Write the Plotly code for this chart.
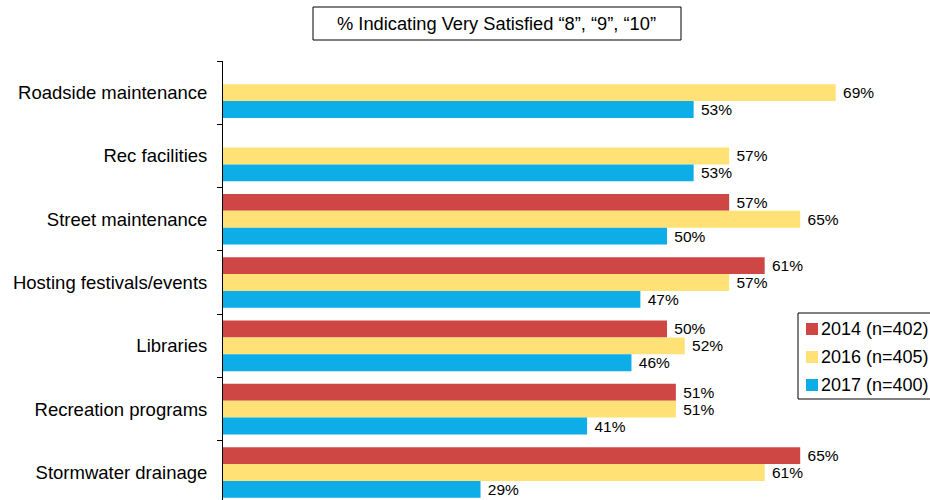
import plotly.graph_objects as go

categories = ["Roadside maintenance", "Rec facilities", "Street maintenance",
              "Hosting festivals/events", "Libraries", "Recreation programs",
              "Stormwater drainage"]
v2014 = [None, None, 57, 61, 50, 51, 65]
v2016 = [69, 57, 65, 57, 52, 51, 61]
v2017 = [53, 53, 50, 47, 46, 41, 29]
series_names = ["2014 (n=402)", "2016 (n=405)", "2017 (n=400)"]
series_colors = ["#CF4745", "#FFE175", "#0DADE8"]
title_text = "% Indicating Very Satisfied “8”, “9”, “10”"

FONT = "Arial, Liberation Sans, sans-serif"
W, H = 930, 500
ML, MR, MT, MB = 223, 0, 61, 0
PW, PH = W - ML - MR, H - MT - MB
BAND = 63.3


def px(x):
    return (x - ML) / PW


def py(y):
    return (H - MB - y) / PH


fig = go.Figure()
for name, vals, col in zip(series_names, [v2014, v2016, v2017], series_colors):
    fig.add_trace(go.Bar(
        y=categories, x=vals, orientation="h", name=name,
        marker=dict(color=col, line=dict(width=0)),
        texttemplate="\u00a0%{x}%", textposition="outside",
        textfont=dict(family=FONT, size=15.5, color="black"),
        constraintext="none", cliponaxis=False, showlegend=False,
    ))

shapes = []
annotations = []
# title box
shapes.append(dict(type="rect", xref="paper", yref="paper",
                   x0=px(313), x1=px(681), y0=py(40), y1=py(7),
                   line=dict(color="black", width=1), fillcolor="white"))
annotations.append(dict(text=title_text, xref="paper", yref="paper",
                        x=px(496), y=py(24), showarrow=False,
                        xanchor="center", yanchor="middle",
                        font=dict(family=FONT, size=18.3, color="black")))
# manual legend
shapes.append(dict(type="rect", xref="paper", yref="paper",
                   x0=px(798), x1=px(945), y0=py(399), y1=py(313),
                   line=dict(color="black", width=1), fillcolor="white"))
for i, (name, col) in enumerate(zip(series_names, series_colors)):
    cy = 329 + 28 * i
    shapes.append(dict(type="rect", xref="paper", yref="paper",
                       x0=px(806), x1=px(818), y0=py(cy + 6), y1=py(cy - 6),
                       line=dict(width=0), fillcolor=col))
    annotations.append(dict(text=name, xref="paper", yref="paper",
                            x=px(819), y=py(cy), showarrow=False,
                            xanchor="left", yanchor="middle",
                            font=dict(family=FONT, size=18, color="black")))

fig.update_layout(
    width=W, height=H,
    margin=dict(l=ML, r=MR, t=MT, b=MB, autoexpand=False),
    paper_bgcolor="white", plot_bgcolor="white",
    barmode="group", bargap=0.2, bargroupgap=0,
    font=dict(family=FONT, size=18, color="black"),
    shapes=shapes, annotations=annotations,
    xaxis=dict(visible=False, range=[0, PW / 8.88], showgrid=False, zeroline=False),
    yaxis=dict(type="category", categoryorder="array", categoryarray=categories,
               range=[-0.5 + PH / BAND, -0.5], showline=True, linecolor="black",
               linewidth=1, ticks="outside", tickson="boundaries", ticklen=5,
               tickcolor="black", ticklabelstandoff=11, showgrid=False,
               zeroline=False,
               tickfont=dict(family=FONT, size=18.5, color="black")),
)

fig.write_html(
    "out.html",
    config={"displayModeBar": False},
    post_script="document.body.style.margin='0';document.body.style.overflow='hidden';",
)
